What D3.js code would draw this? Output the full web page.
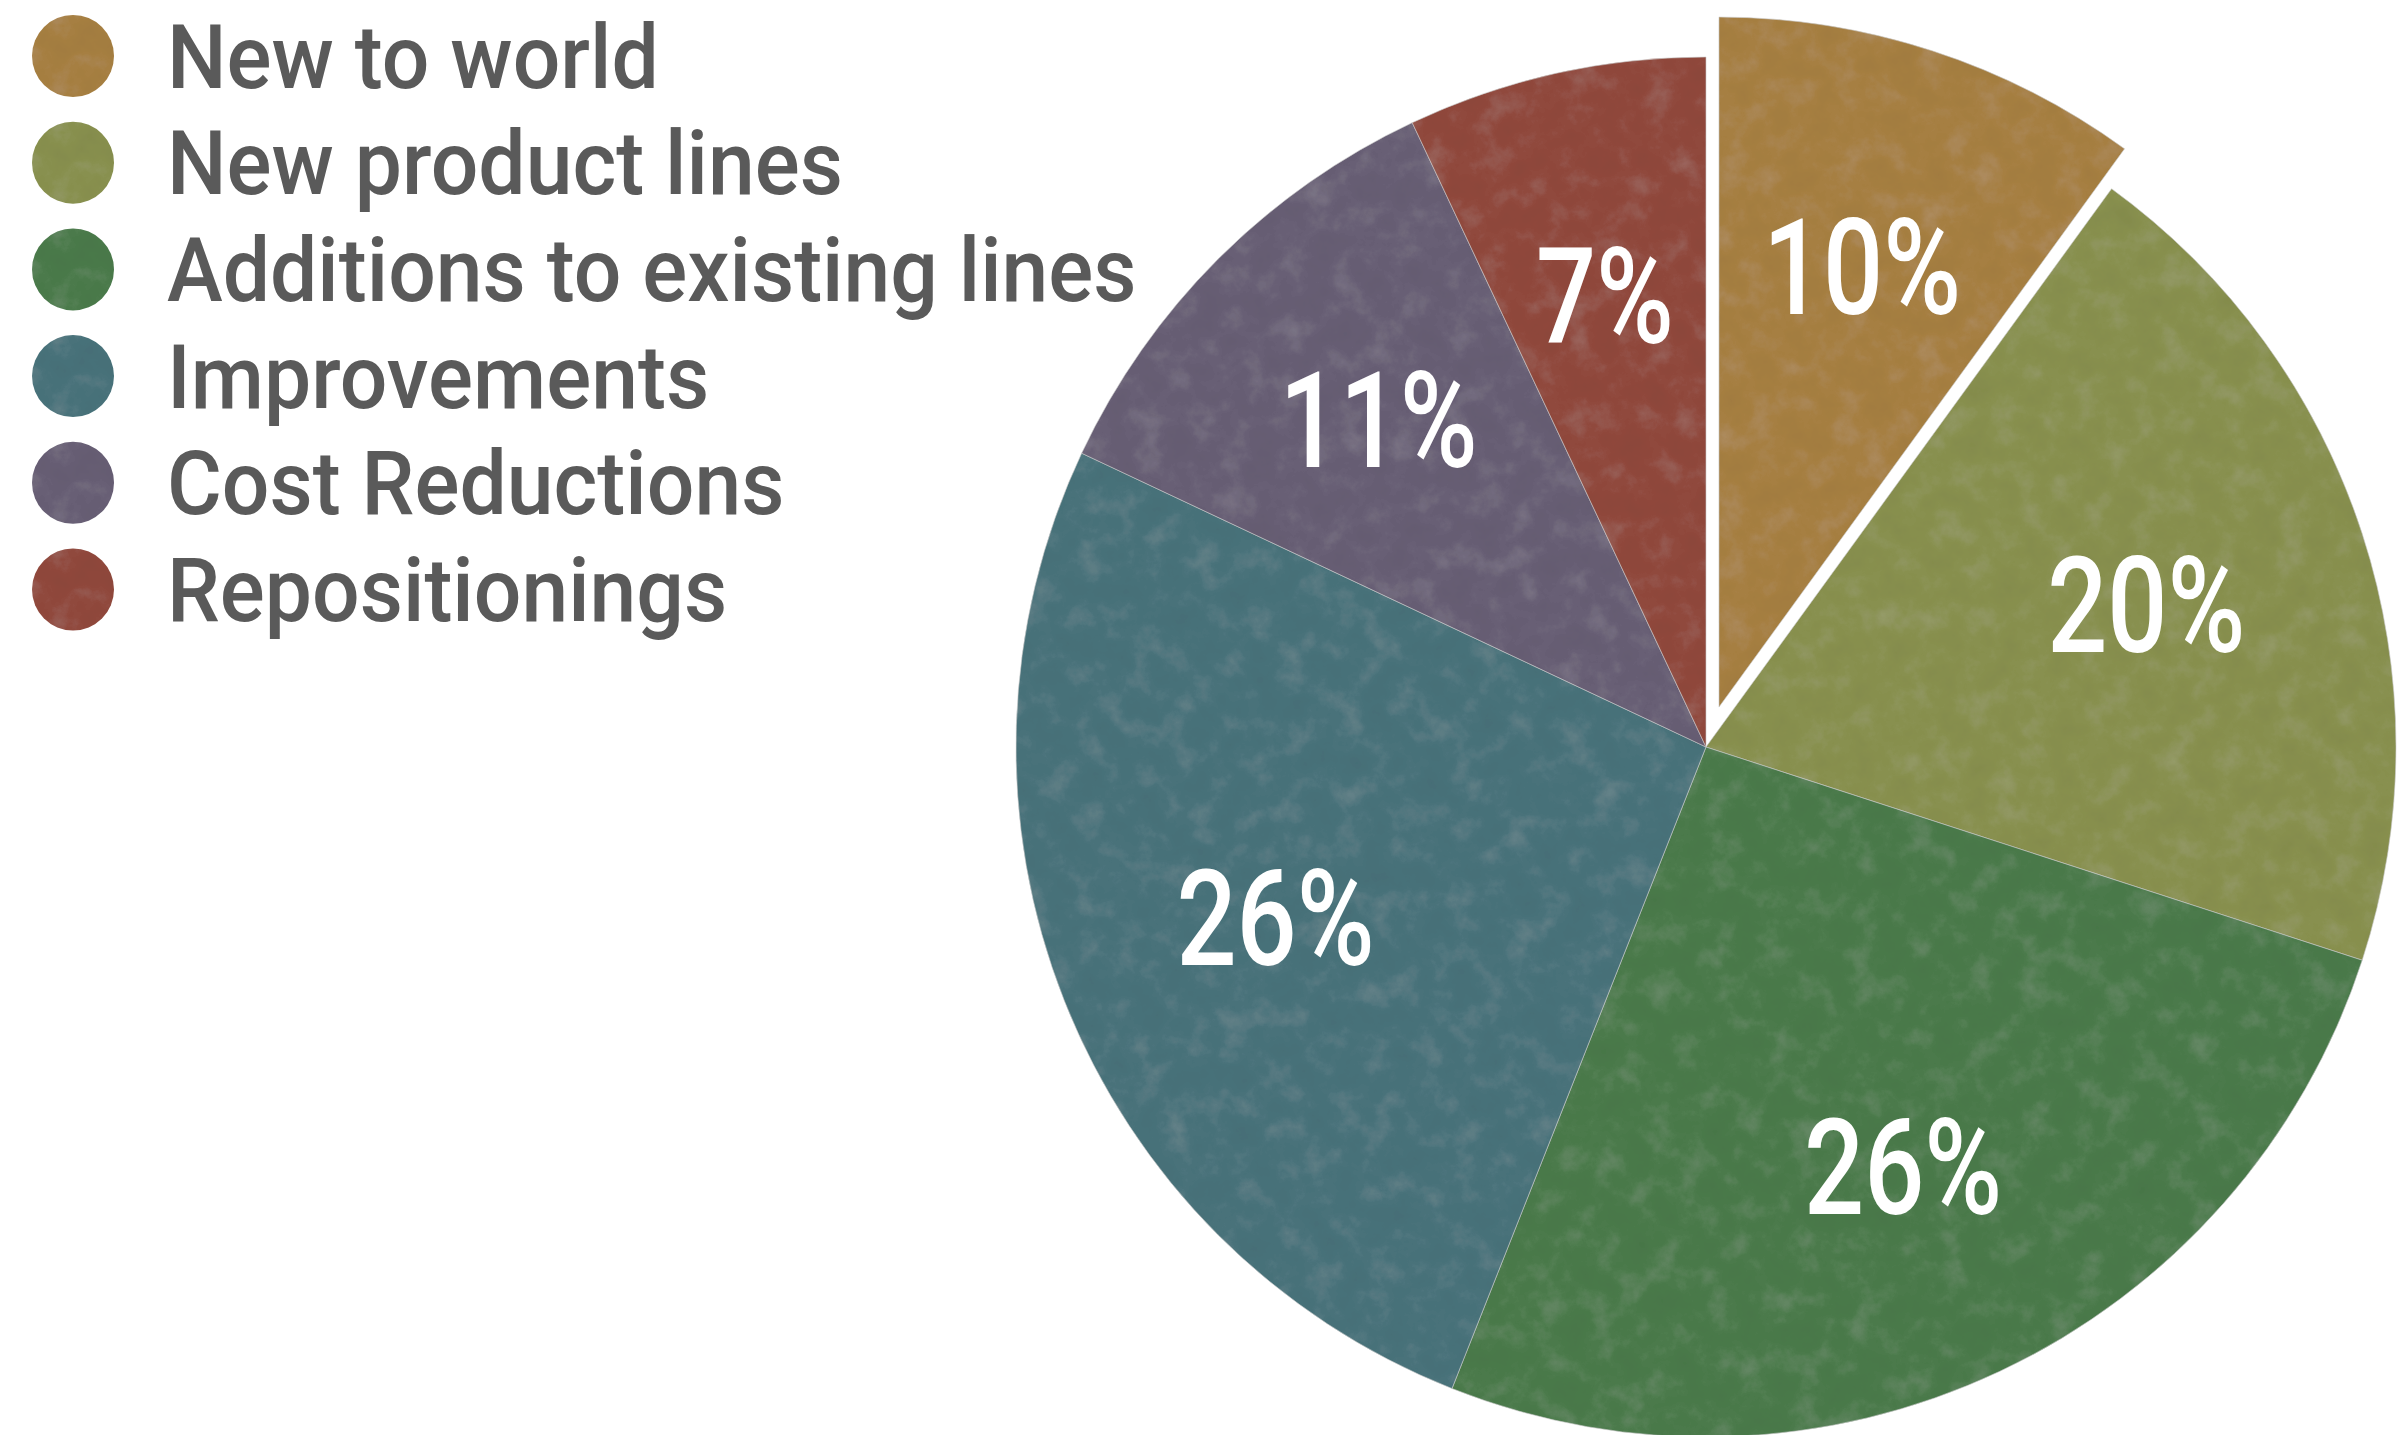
<!DOCTYPE html>
<html>
<head>
<meta charset="utf-8">
<script src="https://cdn.jsdelivr.net/npm/d3@7"></script>
<style>
  html, body { margin: 0; padding: 0; background: #ffffff; }
  svg { display: block; }
</style>
</head>
<body>
<svg id="chart" width="2403" height="1435"></svg>
<script>
const categories = ["New to world", "New product lines", "Additions to existing lines", "Improvements", "Cost Reductions", "Repositionings"];
const values = [10, 20, 26, 26, 11, 7];
const colors = ["#a67f42", "#88904f", "#4b7a4c", "#48727a", "#675e74", "#904a3e"];
const exploded = [true, false, false, false, false, false];

const W = 2403, H = 1435;
const cx = 1706, cy = 747, R = 690;
const explodeDist = 42;
const labelR = 463;

const svg = d3.select("#chart");

// subtle paper-like texture filter
const defs = svg.append("defs");
const f = defs.append("filter").attr("id", "tex").attr("x", "-5%").attr("y", "-5%").attr("width", "110%").attr("height", "110%");
f.append("feTurbulence").attr("type", "fractalNoise").attr("baseFrequency", "0.035").attr("numOctaves", 5).attr("seed", 7).attr("result", "noise");
f.append("feColorMatrix").attr("in", "noise").attr("type", "matrix")
  .attr("values", "0 0 0 0 1  0 0 0 0 1  0 0 0 0 1  1 0 0 0 -0.5").attr("result", "light");
f.append("feColorMatrix").attr("in", "noise").attr("type", "matrix")
  .attr("values", "0 0 0 0 0  0 0 0 0 0  0 0 0 0 0  -1 0 0 0 0.5").attr("result", "dark");
f.append("feComponentTransfer").attr("in", "light").attr("result", "light2")
  .append("feFuncA").attr("type", "linear").attr("slope", 0.16);
f.append("feComponentTransfer").attr("in", "dark").attr("result", "dark2")
  .append("feFuncA").attr("type", "linear").attr("slope", 0.16);
f.append("feComposite").attr("in", "light2").attr("in2", "SourceGraphic").attr("operator", "in").attr("result", "lc");
f.append("feComposite").attr("in", "dark2").attr("in2", "SourceGraphic").attr("operator", "in").attr("result", "dc");
const m = f.append("feMerge");
m.append("feMergeNode").attr("in", "SourceGraphic");
m.append("feMergeNode").attr("in", "lc");
m.append("feMergeNode").attr("in", "dc");

const color = d3.scaleOrdinal().domain(categories).range(colors);

const pie = d3.pie().sort(null).value(d => d.value).startAngle(0).endAngle(2 * Math.PI);
const data = categories.map((c, i) => ({ name: c, value: values[i], exploded: exploded[i] }));
const arcs = pie(data);
const arc = d3.arc().innerRadius(0).outerRadius(R);
const total = d3.sum(values);

const g = svg.append("g").attr("transform", `translate(${cx},${cy})`);

function offset(d) {
  if (!d.data.exploded) return [0, 0];
  const a = (d.startAngle + d.endAngle) / 2;
  return [Math.sin(a) * explodeDist, -Math.cos(a) * explodeDist];
}

const slices = g.selectAll("g.slice").data(arcs).join("g")
  .attr("class", "slice")
  .attr("transform", d => { const o = offset(d); return `translate(${o[0]},${o[1]})`; });

slices.append("path")
  .attr("d", arc)
  .attr("fill", d => color(d.data.name))
  .attr("stroke", "#c9c9c9")
  .attr("stroke-width", 0.6)
  .attr("filter", "url(#tex)");

const labelFont = 134;
slices.append("text")
  .attr("x", d => Math.sin((d.startAngle + d.endAngle) / 2) * labelR)
  .attr("y", d => -Math.cos((d.startAngle + d.endAngle) / 2) * labelR + labelFont * 0.711 / 2)
  .attr("text-anchor", "middle")
  .attr("font-family", "Roboto, 'DejaVu Sans', sans-serif")
  .attr("font-weight", 500)
  .attr("font-size", labelFont)
  .attr("fill", "#ffffff")
  .attr("transform", d => {
    const x = Math.sin((d.startAngle + d.endAngle) / 2) * labelR;
    return `translate(${x},0) scale(0.79,1) translate(${-x},0)`;
  })
  .text(d => Math.round(d.data.value / total * 100) + "%");

// Legend
const legX = 73, legY0 = 56, legStep = 106.7, legR = 41;
const legendFont = 89;
const legend = svg.append("g");
const items = legend.selectAll("g").data(categories).join("g")
  .attr("transform", (d, i) => `translate(${legX},${legY0 + i * legStep})`);
items.append("circle").attr("r", legR).attr("fill", d => color(d)).attr("filter", "url(#tex)");
items.append("text")
  .attr("x", 0)
  .attr("y", legendFont * 0.711 / 2)
  .attr("transform", "translate(94,0) scale(0.944,1)")
  .attr("font-family", "Roboto, 'DejaVu Sans', sans-serif")
  .attr("font-weight", 500)
  .attr("font-size", legendFont)
  .attr("fill", "#5a5a5a")
  .text(d => d);
</script>
</body>
</html>
